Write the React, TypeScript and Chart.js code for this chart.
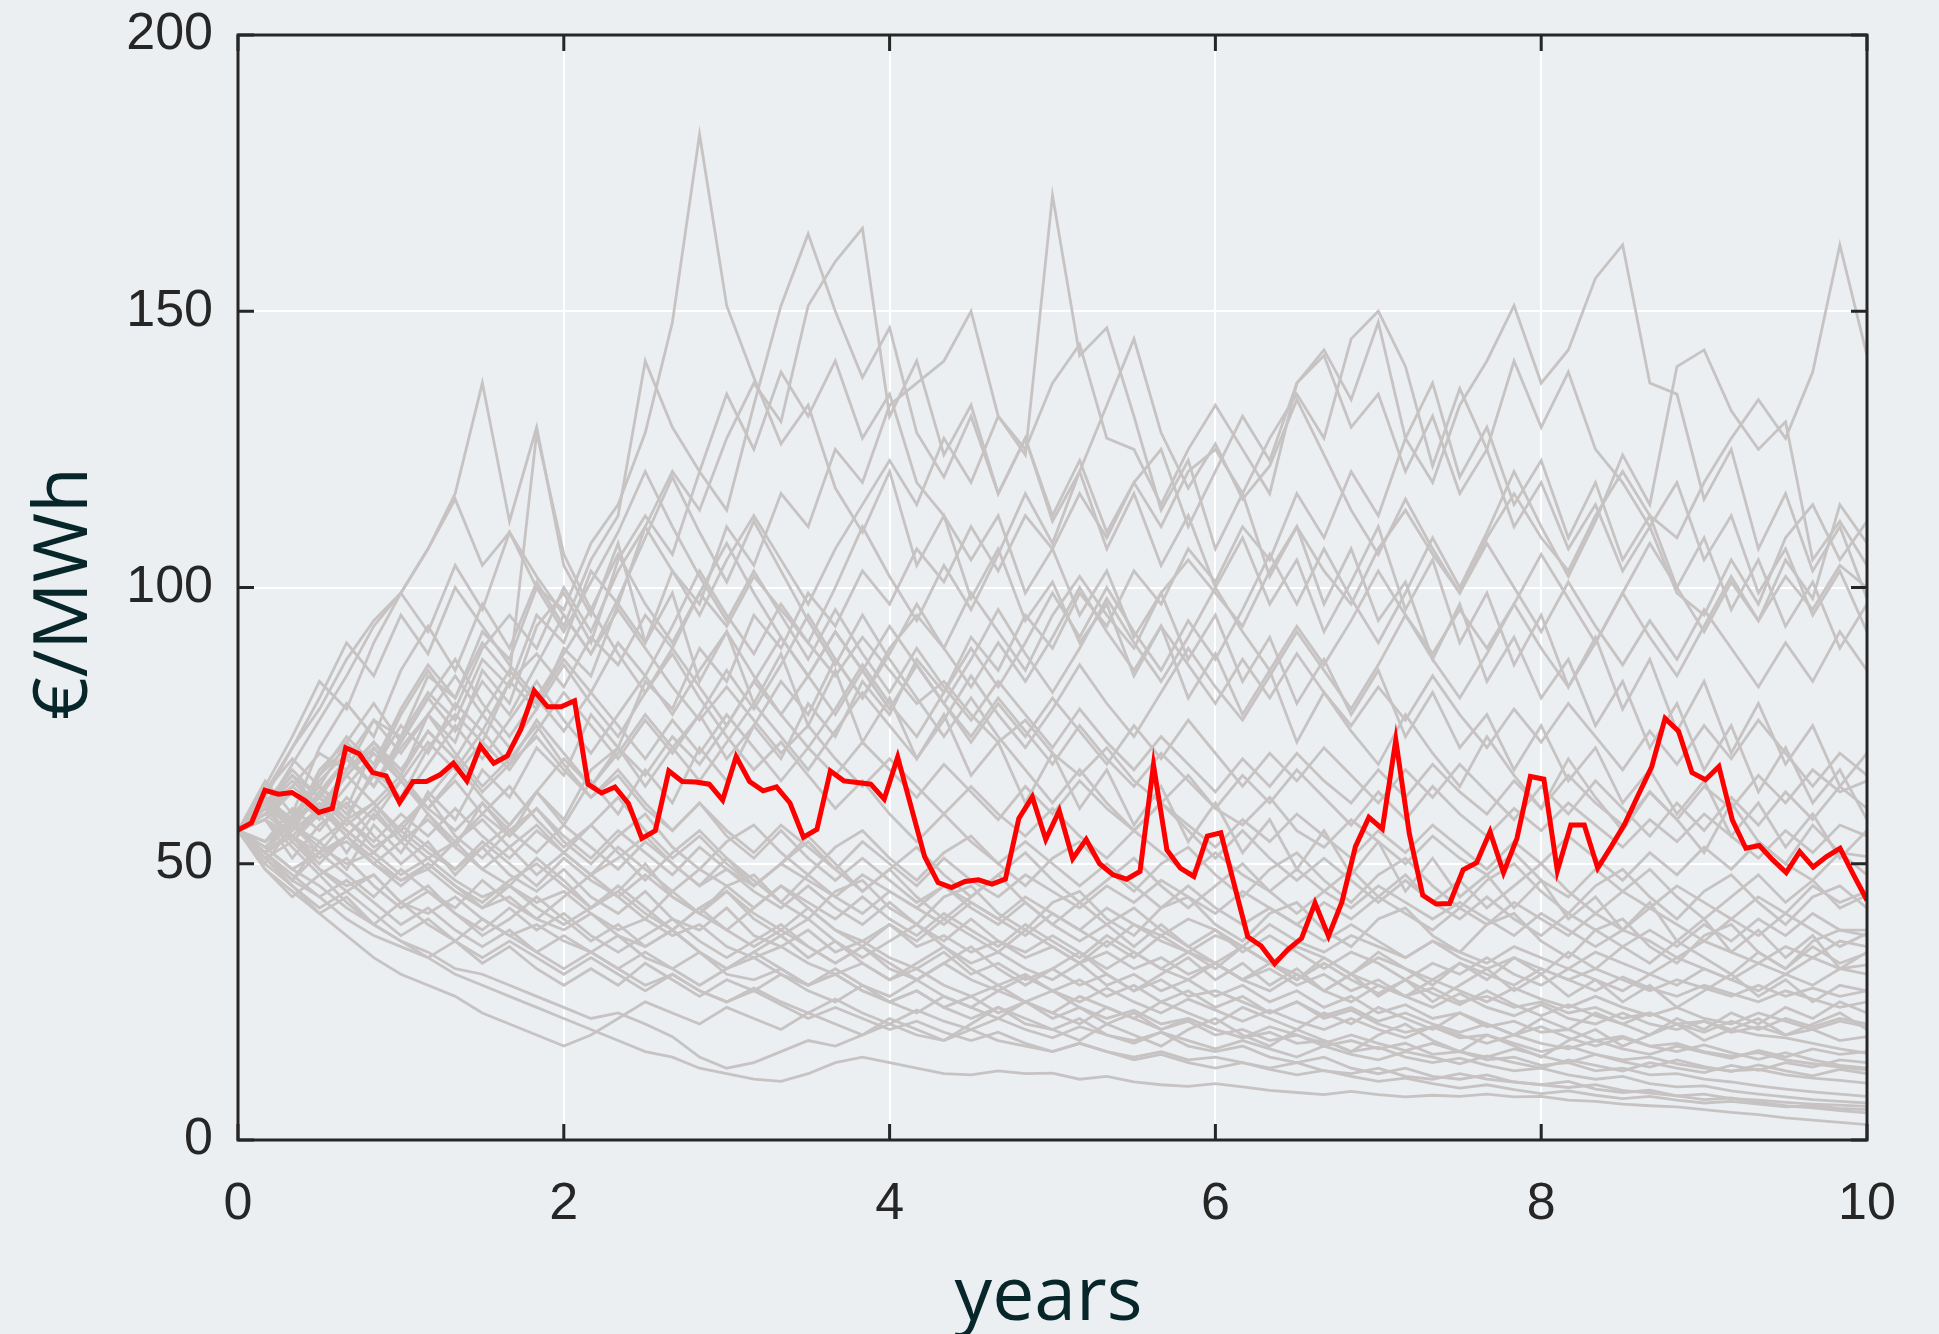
import React, { useEffect, useRef } from "react";
import { Chart, registerables } from "chart.js";

Chart.register(...registerables);

// Axis ticks
const xTickValues = [0, 2, 4, 6, 8, 10];
const yTickValues = [0, 50, 100, 150, 200];
const xMax = 10;
const yMax = 200;

// Highlighted path (€/MWh), evenly spaced from year 0 to year 10
const redPath = [
  56.1, 57.4, 63.3, 62.6, 62.9, 61.4, 59.3, 60.0, 71.0, 69.9, 66.5, 65.9, 61.1, 64.9, 64.9, 66.1, 68.2, 65.0, 71.3, 68.2,
  69.5, 74.3, 81.3, 78.4, 78.4, 79.5, 64.4, 62.8, 63.9, 60.9, 54.6, 56.0, 66.8, 64.9, 64.8, 64.4, 61.5, 69.4, 64.9, 63.2,
  63.9, 61.0, 54.8, 56.2, 66.8, 65.0, 64.7, 64.4, 61.7, 69.3, 60.3, 51.3, 46.6, 45.7, 46.8, 47.1, 46.3, 47.2, 58.2, 62.1,
  54.4, 59.6, 50.9, 54.4, 50.0, 48.0, 47.2, 48.6, 67.9, 52.5, 49.2, 47.7, 55.0, 55.6, 46.2, 36.8, 35.1, 31.9, 34.5, 36.5,
  42.9, 36.9, 43.1, 53.1, 58.4, 56.3, 72.4, 55.5, 44.3, 42.7, 42.8, 48.9, 50.2, 55.8, 48.4, 54.6, 65.8, 65.3, 48.7, 57.0,
  57.0, 49.2, 53.1, 57.2, 62.4, 67.5, 76.3, 74.0, 66.5, 65.2, 67.6, 57.9, 52.8, 53.3, 50.7, 48.4, 52.2, 49.4, 51.3, 52.8,
  48.0, 43.4,
];

// Simulated grey paths (€/MWh), each evenly spaced from year 0 to year 10
const g01 = [56, 60, 64, 70, 67, 76, 73, 84, 80, 92, 87, 100, 96, 108, 115, 128, 148, 182, 151, 138, 126, 133, 118, 110, 121, 104, 113, 98, 107, 94, 101, 90, 97, 84, 93, 80, 88, 77, 85, 72, 81, 74, 68, 77, 70, 64, 73, 66, 60, 69, 62, 56, 63, 58, 52, 61, 54, 50, 57, 52, 48];
const g02 = [56, 62, 71, 78, 87, 94, 99, 107, 117, 137, 112, 129, 104, 95, 108, 90, 99, 83, 92, 79, 88, 75, 85, 72, 80, 69, 77, 66, 72, 61, 70, 60, 67, 57, 64, 54, 61, 52, 58, 49, 56, 48, 54, 45, 51, 44, 48, 42, 47, 40, 44, 38, 43, 36, 40, 34, 38, 33, 37, 31, 34];
const g03 = [56, 52, 59, 64, 60, 71, 66, 77, 72, 85, 79, 93, 99, 90, 105, 113, 106, 121, 114, 133, 151, 164, 150, 138, 147, 128, 120, 131, 117, 127, 112, 121, 107, 117, 104, 113, 100, 109, 97, 105, 92, 101, 111, 96, 105, 90, 99, 86, 95, 82, 91, 78, 87, 74, 83, 70, 79, 68, 75, 64, 70];
const g04 = [56, 61, 56, 63, 69, 64, 73, 81, 76, 87, 82, 95, 90, 103, 97, 111, 121, 114, 127, 137, 130, 151, 159, 165, 131, 141, 124, 133, 117, 127, 113, 123, 110, 119, 125, 111, 121, 131, 123, 137, 143, 134, 148, 127, 137, 120, 129, 115, 123, 109, 119, 105, 113, 100, 109, 96, 105, 93, 101, 89, 97];
const g05 = [56, 50, 57, 62, 58, 67, 62, 71, 77, 72, 83, 78, 89, 84, 97, 90, 103, 97, 111, 104, 117, 111, 125, 119, 133, 137, 141, 150, 131, 124, 171, 142, 147, 131, 114, 123, 107, 117, 102, 111, 97, 107, 94, 101, 87, 97, 83, 91, 80, 87, 75, 83, 71, 79, 67, 75, 63, 71, 61, 67, 58];
const g06 = [56, 61, 54, 59, 52, 59, 54, 63, 58, 67, 62, 71, 66, 77, 71, 83, 78, 89, 83, 95, 89, 99, 93, 103, 97, 107, 101, 111, 103, 113, 107, 117, 109, 119, 111, 121, 125, 117, 127, 135, 127, 145, 150, 140, 122, 136, 125, 141, 129, 139, 125, 119, 111, 119, 105, 113, 99, 107, 95, 103, 92];
const g07 = [56, 52, 47, 54, 49, 57, 52, 59, 53, 61, 55, 63, 57, 65, 59, 67, 61, 71, 65, 75, 69, 79, 73, 83, 77, 87, 81, 91, 85, 95, 89, 99, 93, 103, 97, 107, 101, 111, 105, 117, 109, 121, 113, 127, 119, 133, 141, 151, 137, 143, 156, 162, 137, 135, 116, 125, 107, 117, 103, 111, 98];
const g08 = [56, 58, 51, 57, 61, 55, 50, 54, 48, 53, 57, 63, 58, 67, 71, 64, 71, 77, 69, 75, 83, 77, 87, 80, 89, 95, 89, 99, 92, 85, 95, 102, 95, 89, 99, 105, 99, 93, 103, 111, 103, 97, 107, 114, 106, 99, 109, 117, 109, 103, 113, 121, 113, 109, 119, 127, 134, 127, 139, 162, 142];
const g09 = [56, 62, 57, 67, 72, 67, 77, 85, 78, 89, 95, 89, 100, 92, 103, 111, 103, 95, 105, 113, 105, 97, 107, 115, 123, 115, 127, 119, 131, 125, 137, 144, 127, 125, 115, 125, 133, 125, 117, 137, 142, 129, 135, 121, 131, 117, 125, 111, 119, 107, 115, 103, 111, 99, 95, 105, 97, 109, 115, 105, 112];
const g10 = [56, 65, 59, 71, 79, 73, 85, 93, 85, 97, 89, 101, 93, 105, 113, 141, 129, 121, 135, 125, 139, 131, 141, 127, 135, 119, 113, 105, 113, 99, 107, 95, 103, 91, 99, 87, 95, 83, 91, 79, 87, 77, 85, 73, 81, 71, 77, 67, 75, 65, 71, 61, 67, 59, 65, 55, 61, 53, 59, 51, 56];
const g11 = [56, 50, 46, 41, 37, 33, 30, 28, 26, 23, 21, 19, 17, 19, 22, 25, 23, 21, 24, 22, 20, 23, 21, 19, 22, 20, 18, 21, 24, 22, 20, 18, 21, 19, 17, 20, 22, 19, 17, 20, 18, 16, 19, 21, 18, 16, 19, 17, 15, 18, 20, 17, 19, 21, 18, 20, 22, 19, 21, 23, 20];
const g12 = [56, 52, 47, 44, 40, 37, 35, 33, 30, 28, 26, 24, 22, 20, 18, 16, 15, 13, 12, 11, 10.6, 12, 14, 15, 14, 13, 12, 11.8, 12.5, 12, 12.1, 11, 11.5, 10.5, 10, 9.7, 10.2, 9.6, 9, 8.6, 8.2, 8.8, 8.2, 7.8, 8.1, 7.9, 8.3, 7.8, 7.9, 7.2, 7, 6.5, 6.2, 6, 5.5, 5, 4.6, 4, 3.6, 3.2, 2.8];
const g13 = [56, 53, 49, 46, 42, 39, 36, 34, 31, 30, 28, 26, 24, 22, 23, 21, 18.7, 15, 13, 14, 16, 18, 17, 19, 21, 19, 18, 20, 18, 17, 16, 17.5, 16, 15, 16, 14.5, 15, 14, 13, 14, 12.5, 12, 13, 11.5, 11, 12, 11, 10.5, 10, 9.5, 10, 9, 8.5, 8, 8.3, 7.5, 7.2, 6.8, 6.5, 6.3, 6.1];
const g14 = [56, 58, 55, 52, 54, 50, 47, 49, 45, 42, 44, 40, 38, 41, 37, 35, 38, 34, 31, 33, 30, 28, 30, 27, 25, 27, 24, 22, 24, 21, 20, 22, 19, 18, 19.5, 17, 16, 17, 15, 14, 15, 13, 12, 13, 11.5, 11, 11.8, 10.5, 10, 10.6, 9.2, 8.6, 9, 8, 7.3, 7.6, 6.8, 6.2, 5.8, 5.3, 4.9];
const g15 = [56, 54, 57, 53, 50, 52, 48, 51, 47, 44, 46, 43, 45, 41, 38, 40, 37, 39, 35, 33, 35, 32, 30, 32, 29, 31, 28, 26, 28, 25, 27, 24, 22, 23.5, 21, 22, 20, 18.5, 19.5, 17.5, 18, 16, 16.8, 15, 14, 14.8, 13.5, 12.5, 13, 11.8, 11, 11.5, 10.2, 9.6, 9.8, 8.9, 8.3, 7.8, 7.3, 7, 6.7];
const g16 = [56, 51, 54, 49, 46, 48, 43, 41, 44, 40, 37, 39, 36, 34, 37, 33, 31, 34, 30, 29, 31, 28, 30, 27, 25, 27, 24, 26, 23, 25, 22, 24, 21, 23, 20, 21.5, 19, 20, 18, 19, 17, 18, 16.5, 17.5, 15.5, 16, 14.5, 15, 13.5, 14, 12.5, 13, 11.8, 12, 11, 10.5, 9.8, 9.2, 8.7, 8.3, 7.9];
const g17 = [56, 60, 57, 54, 58, 53, 56, 52, 49, 53, 48, 45, 49, 44, 41, 45, 40, 38, 42, 37, 35, 38, 34, 36, 33, 31, 34, 30, 32, 29, 31, 28, 30, 27, 29, 26, 27, 25, 23, 25, 22, 23.5, 21, 19.5, 20.5, 18.5, 19, 17.5, 16, 17, 15.5, 14.5, 15, 13.8, 13, 12.5, 12.8, 11.8, 11.2, 10.8, 10.3];
const g18 = [56, 53, 49, 52, 55, 51, 47, 50, 46, 43, 47, 50, 46, 42, 45, 41, 38, 42, 45, 40, 37, 40, 36, 33, 36, 39, 35, 32, 34, 31, 29, 32, 28, 30, 27, 29, 26, 28, 25, 27, 24, 26, 23, 24.5, 22, 23, 20.5, 21.5, 19.5, 20, 18, 18.8, 17, 17.5, 16, 15.2, 15.8, 14.5, 13.8, 13.2, 12.7];
const g19 = [56, 59, 55, 60, 56, 52, 57, 53, 49, 54, 50, 46, 51, 47, 44, 48, 44, 41, 45, 41, 38, 42, 38, 36, 39, 35, 37, 34, 36, 33, 35, 32, 34, 31, 33, 30, 32, 29, 31, 28, 30, 27, 29, 26, 27.5, 25, 26, 24, 25, 23, 24, 22, 23, 21, 21.5, 20, 19, 18.5, 17.5, 16.5, 15.7];
const g20 = [56, 52, 56, 60, 55, 50, 54, 58, 53, 49, 53, 57, 52, 48, 51, 55, 50, 46, 49, 45, 42, 46, 42, 39, 43, 39, 36, 40, 36, 34, 37, 34, 31, 34, 31, 29, 32, 29, 27, 30, 27, 25, 28, 26, 24, 26.5, 24, 22.5, 24.5, 22, 21, 23, 21, 20, 21.5, 19.5, 20.5, 19, 20, 18, 18.7];
const g21 = [56, 61, 57, 63, 58, 54, 59, 55, 60, 55, 51, 56, 52, 48, 53, 49, 45, 49, 46, 42, 46, 43, 40, 44, 40, 37, 41, 38, 35, 39, 36, 33, 37, 34, 31, 34, 32, 29, 32, 30, 27, 30, 28, 26, 29, 27, 25, 27.5, 25.5, 24, 26, 24, 22.5, 24, 22, 21, 23, 21.5, 20, 21.5, 20.5];
const g22 = [56, 54, 58, 62, 57, 61, 66, 60, 56, 61, 56, 52, 57, 53, 49, 54, 50, 46, 51, 47, 43, 48, 44, 41, 45, 42, 39, 43, 40, 37, 41, 38, 35, 39, 36, 34, 37, 35, 32, 35, 33, 30, 33, 31, 29, 32, 30, 28, 31, 29, 27, 29.5, 27.5, 26, 28, 26.5, 25, 27, 25.5, 24, 25];
const g23 = [56, 60, 65, 60, 66, 71, 65, 60, 65, 59, 55, 60, 55, 51, 56, 52, 48, 53, 49, 46, 50, 47, 44, 48, 45, 42, 46, 43, 40, 44, 41, 38, 42, 39, 37, 40, 38, 35, 39, 36, 34, 37, 35, 33, 36, 34, 32, 35, 33, 31, 34, 32, 30, 33, 31, 29, 32, 30, 33, 31, 31.7];
const g24 = [56, 51, 47, 52, 48, 44, 49, 45, 42, 47, 43, 40, 44, 48, 44, 40, 45, 41, 38, 42, 46, 42, 38, 35, 39, 36, 40, 37, 34, 38, 35, 32, 36, 33, 37, 34, 31, 35, 32, 29, 33, 30, 34, 31, 28, 32, 29, 33, 30, 34, 31, 35, 32, 36, 33, 30, 34, 31, 35, 32, 33.8];
const g25 = [56, 62, 58, 65, 70, 64, 71, 77, 70, 64, 69, 75, 68, 62, 67, 61, 56, 61, 56, 52, 57, 53, 49, 54, 50, 46, 51, 47, 44, 48, 45, 42, 46, 43, 47, 44, 41, 45, 42, 39, 43, 40, 44, 41, 38, 42, 39, 43, 40, 37, 41, 38, 42, 39, 36, 40, 37, 41, 38, 35, 37.4];
const g26 = [56, 60, 55, 50, 55, 60, 54, 49, 54, 58, 53, 48, 52, 57, 52, 47, 52, 56, 51, 46, 50, 55, 50, 45, 49, 53, 48, 44, 48, 52, 47, 43, 47, 51, 46, 42, 46, 50, 45, 41, 45, 49, 44, 48, 43, 47, 42, 46, 50, 45, 41, 45, 49, 44, 40, 44, 48, 43, 47, 42, 44.3];
const g27 = [56, 63, 69, 64, 72, 79, 72, 80, 87, 79, 73, 80, 74, 81, 75, 69, 76, 70, 77, 71, 65, 71, 66, 72, 67, 62, 68, 63, 58, 64, 59, 65, 60, 56, 61, 57, 53, 58, 54, 59, 55, 51, 56, 52, 57, 53, 49, 54, 50, 55, 51, 47, 52, 48, 53, 49, 54, 50, 47, 52, 51.3];
const g28 = [56, 52, 58, 64, 59, 66, 61, 68, 75, 69, 76, 83, 76, 70, 77, 84, 77, 85, 92, 84, 77, 84, 92, 85, 78, 86, 79, 72, 79, 73, 80, 74, 68, 75, 69, 76, 70, 64, 70, 65, 71, 66, 61, 67, 62, 68, 63, 58, 64, 59, 65, 60, 55, 61, 56, 62, 57, 63, 58, 64, 60];
const g29 = [56, 61, 67, 62, 69, 76, 70, 77, 84, 77, 71, 78, 86, 79, 73, 81, 89, 82, 75, 83, 91, 84, 77, 85, 93, 86, 79, 87, 96, 88, 81, 89, 98, 90, 83, 91, 100, 92, 85, 93, 86, 94, 103, 95, 88, 96, 89, 97, 106, 98, 90, 99, 108, 100, 92, 101, 94, 102, 96, 104, 100];
const g30 = [56, 58, 54, 60, 66, 61, 56, 62, 68, 62, 57, 63, 69, 64, 70, 77, 71, 65, 72, 79, 73, 67, 74, 81, 75, 69, 76, 84, 77, 71, 78, 86, 79, 73, 81, 89, 82, 76, 84, 92, 85, 78, 86, 95, 87, 80, 88, 97, 89, 82, 90, 99, 91, 84, 93, 102, 94, 105, 98, 115, 108];
const g31 = [56, 61, 58, 66, 71, 67, 75, 70, 79, 74, 83, 88, 82, 91, 86, 95, 89, 99, 93, 102, 96, 90, 84, 91, 85, 79, 83, 77, 72, 76, 70, 66, 71, 65, 61, 66, 60, 57, 62, 56, 53, 58, 54, 50, 55, 51, 48, 52, 47, 44, 49, 45, 42, 46, 43, 40, 44, 41, 46, 43, 45];
const g32 = [56, 64, 73, 83, 78, 90, 99, 92, 104, 96, 110, 102, 95, 88, 96, 89, 82, 76, 82, 76, 70, 75, 69, 64, 69, 64, 59, 64, 59, 55, 60, 55, 51, 56, 52, 48, 52, 48, 45, 49, 45, 42, 46, 43, 40, 43, 40, 37, 41, 38, 35, 38, 36, 33, 36, 34, 32, 35, 33, 36, 35];
const g33 = [56, 62, 58, 66, 73, 68, 78, 86, 80, 90, 84, 128, 106, 96, 88, 81, 88, 80, 73, 67, 72, 66, 60, 65, 59, 54, 59, 54, 50, 54, 50, 46, 50, 46, 42, 46, 42, 39, 42, 39, 36, 39, 36, 33, 36, 33, 31, 33, 31, 29, 31, 29, 27, 29, 27.5, 26, 28, 26, 27.5, 26, 27];
const g34 = [56, 59, 63, 58, 64, 70, 65, 60, 66, 72, 67, 74, 81, 75, 69, 76, 70, 77, 85, 78, 86, 95, 87, 80, 88, 97, 89, 82, 90, 83, 91, 100, 92, 85, 93, 86, 79, 87, 80, 88, 81, 75, 82, 76, 84, 77, 71, 78, 72, 79, 73, 67, 74, 68, 75, 69, 76, 70, 64, 70, 66];
const g35 = [56, 59, 64, 60, 67, 72, 66, 74, 69, 63, 68, 73, 67, 62, 66, 60, 56, 61, 55, 51, 56, 51, 47, 51, 47, 43, 46, 42, 39, 43, 39, 36, 39, 42, 38, 35, 38, 34, 37, 34, 31, 34, 32, 29, 32, 30, 33, 30, 28, 31, 29, 27, 30, 28, 31, 29, 27, 30, 28, 31, 30];
const g36 = [56, 53, 58, 61, 56, 52, 57, 62, 55, 51, 56, 60, 54, 50, 55, 59, 53, 49, 54, 57, 52, 48, 53, 56, 51, 47, 52, 55, 50, 46, 51, 54, 49, 45, 50, 53, 48, 44, 49, 52, 47, 43, 48, 51, 46, 42, 47, 50, 45, 41, 46, 49, 44, 40, 45, 48, 43, 39, 44, 46, 42];
const g37 = [56, 63, 71, 80, 90, 84, 95, 88, 100, 93, 86, 80, 88, 96, 106, 97, 90, 99, 108, 99, 91, 84, 92, 85, 78, 86, 79, 73, 80, 74, 68, 75, 69, 64, 70, 65, 60, 66, 61, 67, 62, 57, 63, 58, 64, 59, 55, 60, 56, 61, 57, 53, 58, 54, 59, 55, 51, 56, 52, 57, 55];
const g38 = [56, 49, 44, 48, 43, 39, 43, 39, 36, 40, 37, 34, 37, 34, 31, 34, 31, 28, 31, 34, 31, 28, 31, 28, 26, 29, 26, 24, 27, 25, 23, 26, 24, 22, 25, 23, 21, 24, 22, 20, 23, 21, 24, 22, 20, 23, 21, 19, 22, 20, 23, 21, 19, 22, 20, 23, 21, 24, 22, 25, 23];
const g39 = [56, 51, 46, 42, 45, 41, 37, 40, 36, 33, 36, 33, 30, 33, 30, 27, 30, 27, 25, 27.5, 25, 23, 25.5, 23, 21, 23.5, 21.5, 20, 22, 20, 18.5, 20.5, 19, 17.5, 19.5, 18, 16.5, 18, 16.5, 15, 17, 15.5, 14.5, 16, 15, 13.8, 15.2, 14, 13, 14.5, 13.5, 12.5, 14, 13, 12.2, 13.5, 12.6, 14, 13.2, 14.5, 14];
const g40 = [56, 60, 55, 51, 55, 50, 46, 50, 46, 42, 46, 42, 39, 42, 46, 42, 38, 42, 38, 35, 38, 35, 32, 35, 32, 29, 32, 29, 27, 29.5, 27, 25, 27.5, 25, 23, 25.5, 23.5, 21.5, 23.5, 21.5, 20, 22, 20, 18.5, 20.5, 19, 17.5, 19, 17.5, 16.5, 18, 16.5, 15.5, 17, 15.8, 14.8, 16.2, 15, 16.5, 15.5, 16];
const g41 = [56, 52, 48, 44, 47, 43, 39, 42, 38, 35, 38, 34, 31, 34, 31, 28, 30, 27, 25, 27, 24.5, 22, 24, 22, 20, 21.5, 19.5, 18, 19.5, 17.5, 16, 17.5, 16, 14.5, 15.5, 14, 13, 14, 12.8, 11.8, 12.6, 11.5, 10.6, 11.2, 10.2, 9.4, 10, 9.1, 8.4, 8.9, 8.1, 7.5, 7.9, 7.2, 6.7, 7, 6.5, 6, 6.2, 5.7, 5.5];
const g42 = [56, 61, 66, 60, 55, 60, 65, 59, 54, 59, 64, 58, 53, 57, 62, 56, 51, 55, 50, 46, 50, 54, 49, 45, 49, 44, 40, 44, 48, 43, 39, 43, 39, 35, 39, 35, 32, 35, 32, 29, 32, 29, 26.5, 29, 26.5, 24.5, 27, 24.5, 22.5, 24.5, 22.5, 21, 23, 21, 19.5, 21.5, 20, 22, 20.5, 22, 21];
const g43 = [56, 60, 66, 62, 69, 64, 72, 80, 74, 83, 77, 86, 95, 88, 98, 109, 120, 110, 101, 112, 103, 94, 86, 95, 87, 80, 73, 80, 73, 67, 61, 67, 61, 56, 61, 56, 51, 56, 51, 47, 51, 47, 43, 47, 43, 40, 44, 40, 37, 41, 38, 35, 38, 35, 39, 36, 40, 37, 41, 38, 38];
const g44 = [56, 60, 68, 76, 84, 93, 99, 107, 116, 104, 110, 100, 92, 101, 110, 121, 111, 102, 94, 103, 95, 87, 96, 88, 81, 89, 82, 76, 83, 77, 71, 78, 72, 67, 73, 68, 63, 69, 64, 70, 65, 61, 67, 62, 68, 63, 59, 65, 60, 66, 61, 57, 63, 58, 64, 60, 66, 61, 67, 63, 65];
const g45 = [56, 58, 63, 59, 66, 72, 67, 74, 69, 77, 85, 79, 87, 81, 90, 84, 93, 103, 95, 88, 97, 90, 100, 111, 102, 94, 104, 96, 106, 117, 108, 121, 133, 145, 128, 118, 126, 116, 122, 134, 124, 114, 106, 116, 107, 99, 108, 100, 92, 101, 93, 86, 94, 87, 96, 89, 82, 90, 83, 92, 85];
const g46 = [56, 54, 60, 56, 62, 58, 65, 72, 67, 74, 68, 76, 70, 64, 71, 66, 73, 68, 75, 83, 77, 71, 78, 86, 79, 73, 81, 89, 82, 90, 99, 91, 100, 92, 85, 94, 87, 96, 106, 97, 107, 98, 90, 99, 109, 100, 110, 121, 111, 102, 112, 124, 115, 140, 143, 132, 125, 130, 105, 112, 104];
const g47 = [56, 49, 45, 41, 44, 39, 36, 33, 36, 32, 35, 31, 28, 31, 28, 32, 29, 26, 29, 27, 30, 27, 25, 28, 25, 23, 26, 24, 22, 25, 23, 21, 24, 22, 20, 22, 20, 18.5, 20.5, 19, 17.5, 19, 17.5, 16.2, 17.5, 16, 15, 16.5, 15.2, 14, 15.5, 14.2, 13.2, 14.5, 13.3, 12.4, 13.6, 12.5, 11.6, 12.8, 12];
const g48 = [56, 52, 55, 49, 45, 48, 43, 46, 41, 38, 42, 38, 41, 37, 34, 37, 40, 36, 33, 36, 39, 35, 32, 35, 31, 29, 32, 35, 31, 28, 31, 34, 30, 27, 30, 33, 29, 32, 28, 31, 27, 30, 26, 29, 25, 28, 31, 27, 30, 26, 29, 25, 28, 24, 27, 30, 26, 29, 25, 28, 27];
const g49 = [56, 58, 53, 48, 51, 46, 42, 45, 41, 37, 40, 44, 40, 36, 39, 35, 38, 34, 31, 34, 37, 33, 36, 32, 29, 32, 35, 31, 28, 30, 27, 29, 26, 28, 25, 27, 24, 26, 23, 25, 22.5, 24, 21.5, 23, 21, 19.5, 21, 19, 20.5, 18.5, 17, 18.5, 17, 16, 17.2, 15.8, 14.6, 15.8, 14.5, 13.5, 13];
const g50 = [56, 62, 57, 52, 58, 61, 55, 51, 54, 49, 46, 51, 47, 42, 45, 50, 44, 41, 46, 48, 43, 40, 45, 47, 42, 39, 44, 46, 41, 38, 43, 45, 40, 37, 42, 44, 39, 36, 41, 43, 38, 35, 40, 42, 37, 34, 39, 41, 36, 33, 38, 40, 35, 32, 37, 39, 34, 31, 36, 38, 37];

const greyPaths = [
  g01, g02, g03, g04, g05, g06, g07, g08, g09, g10, g11, g12, g13, g14, g15, g16, g17, g18, g19, g20, g21, g22, g23,
  g24, g25, g26, g27, g28, g29, g30, g31, g32, g33, g34, g35, g36, g37, g38, g39, g40, g41, g42, g43, g44, g45, g46,
  g47, g48, g49, g50,
];

const xTitle = "years";
const yTitle = "€/MWh";

function toPoints(values: number[]) {
  const n = values.length;
  return values.map((v, i) => ({ x: (i * xMax) / (n - 1), y: v }));
}

const W = 1939;
const H = 1334;

export default function App() {
  const ref = useRef<HTMLCanvasElement | null>(null);

  useEffect(() => {
    document.body.style.margin = "0";
    document.body.style.background = "#ebeff2";
    const canvas = ref.current;
    if (!canvas) return;

    const bgPlugin = {
      id: "bg",
      beforeDraw(chart: any) {
        const { ctx } = chart;
        ctx.save();
        ctx.fillStyle = "#ebeff2";
        ctx.fillRect(0, 0, chart.width, chart.height);
        ctx.restore();
      },
    };

    const framePlugin = {
      id: "frame",
      afterDatasetsDraw(chart: any) {
        const { ctx, chartArea: a } = chart;
        const xs = chart.scales.x;
        const ys = chart.scales.y;
        ctx.save();
        ctx.strokeStyle = "#262626";
        ctx.lineWidth = 3;
        ctx.strokeRect(a.left, a.top, a.right - a.left, a.bottom - a.top);
        const L = 16;
        ctx.beginPath();
        xTickValues.forEach((t) => {
          const px = xs.getPixelForValue(t);
          ctx.moveTo(px, a.bottom);
          ctx.lineTo(px, a.bottom - L);
          ctx.moveTo(px, a.top);
          ctx.lineTo(px, a.top + L);
        });
        yTickValues.forEach((t) => {
          const py = ys.getPixelForValue(t);
          ctx.moveTo(a.left, py);
          ctx.lineTo(a.left + L, py);
          ctx.moveTo(a.right, py);
          ctx.lineTo(a.right - L, py);
        });
        ctx.stroke();

        ctx.fillStyle = "#06262a";
        ctx.font = '75px "Open Sans"';
        ctx.textAlign = "center";
        ctx.textBaseline = "alphabetic";
        ctx.fillText(xTitle, (a.left + a.right) / 2 - 4, 1320);

        ctx.translate(87, (a.top + a.bottom) / 2 + 6);
        ctx.rotate(-Math.PI / 2);
        ctx.fillText(yTitle, 0, 0);
        ctx.restore();
      },
    };

    const datasets: any[] = [
      {
        label: "highlight",
        data: toPoints(redPath),
        borderColor: "#ff0000",
        borderWidth: 5,
        pointRadius: 0,
        tension: 0,
        order: 0,
      },
      ...greyPaths.map((p, i) => ({
        label: "path" + (i + 1),
        data: toPoints(p),
        borderColor: "#c7c3c3",
        borderWidth: 2.8,
        pointRadius: 0,
        tension: 0,
        order: 1,
      })),
    ];

    const chart = new Chart(canvas, {
      type: "line",
      data: { datasets },
      plugins: [bgPlugin, framePlugin],
      options: {
        responsive: false,
        animation: false,
        devicePixelRatio: 1,
        events: [],
        layout: { padding: { top: 35, right: 72, left: 0, bottom: 0 } },
        plugins: { legend: { display: false }, tooltip: { enabled: false } },
        scales: {
          x: {
            type: "linear",
            min: 0,
            max: xMax,
            afterFit: (s: any) => {
              s.height = 194;
              s.paddingLeft = 0;
              s.paddingRight = 0;
            },
            afterBuildTicks: (s: any) => {
              s.ticks = xTickValues.map((v) => ({ value: v }));
            },
            ticks: {
              color: "#262626",
              font: { family: '"Liberation Sans", Arial, sans-serif', size: 52 },
              padding: 33,
              maxRotation: 0,
            },
            grid: { color: "#ffffff", lineWidth: 2, drawTicks: false },
            border: { display: false },
          },
          y: {
            type: "linear",
            min: 0,
            max: yMax,
            afterFit: (s: any) => {
              s.width = 238;
              s.paddingTop = 0;
              s.paddingBottom = 0;
            },
            afterBuildTicks: (s: any) => {
              s.ticks = yTickValues.map((v) => ({ value: v }));
            },
            ticks: {
              color: "#262626",
              font: { family: '"Liberation Sans", Arial, sans-serif', size: 52 },
              padding: 25,
            },
            grid: { color: "#ffffff", lineWidth: 2, drawTicks: false },
            border: { display: false },
          },
        },
      },
    });

    return () => chart.destroy();
  }, []);

  return (
    <div style={{ width: W, height: H, background: "#ebeff2" }}>
      <canvas ref={ref} width={W} height={H} style={{ display: "block", width: W, height: H }} />
    </div>
  );
}
